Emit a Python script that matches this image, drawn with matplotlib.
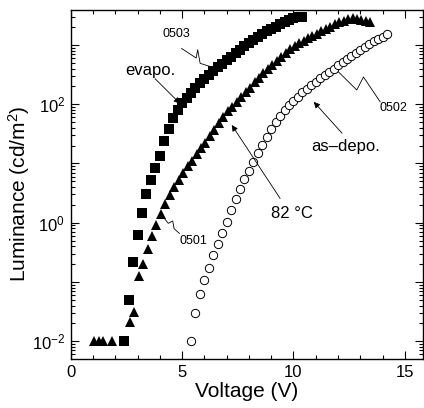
import numpy as np
import matplotlib
matplotlib.use('Agg')
import matplotlib.pyplot as plt
from matplotlib.ticker import FixedLocator, LogLocator, NullFormatter, MultipleLocator, FuncFormatter

plt.rcParams['font.family'] = ['Liberation Sans', 'DejaVu Sans']
plt.rcParams['mathtext.fontset'] = 'custom'
plt.rcParams['mathtext.rm'] = 'Liberation Sans'
plt.rcParams['mathtext.it'] = 'Liberation Sans:italic'

# evapo. (0503), filled squares -- luminance read as log10(cd/m^2)
evapo_V = [2.4, 2.6, 2.8, 3.0, 3.2, 3.4, 3.6, 3.8, 4.0, 4.2, 4.4, 4.6, 4.8, 5.0,
           5.2, 5.4, 5.6, 5.8, 6.0, 6.2, 6.4, 6.6, 6.8, 7.0, 7.2, 7.4, 7.6, 7.8,
           8.0, 8.2, 8.4, 8.6, 8.8, 9.0, 9.2, 9.4, 9.6, 9.8, 10.0, 10.2, 10.4]
evapo_logL = [-2.00, -1.30, -0.67, -0.20, 0.17, 0.48, 0.72, 0.93, 1.13, 1.38,
              1.59, 1.76, 1.90, 2.02, 2.11, 2.19, 2.27, 2.35, 2.42, 2.49,
              2.56, 2.62, 2.68, 2.74, 2.80, 2.86, 2.92, 2.98, 3.03, 3.08,
              3.13, 3.18, 3.23, 3.27, 3.31, 3.35, 3.39, 3.42, 3.45, 3.47, 3.48]

# 82 C (0501), filled triangles
t82_V = [1.05, 1.25, 1.45, 1.85,
         2.65, 2.85, 3.05, 3.25, 3.45, 3.65, 3.85, 4.05, 4.25, 4.45,
         4.65, 4.85, 5.05, 5.25, 5.45, 5.65, 5.85, 6.05, 6.25, 6.45,
         6.65, 6.85, 7.05, 7.25, 7.45, 7.65, 7.85, 8.05, 8.25, 8.45,
         8.65, 8.85, 9.05, 9.25, 9.45, 9.65, 9.85, 10.05, 10.25, 10.45,
         10.65, 10.85, 11.05, 11.25, 11.45, 11.65, 11.85, 12.05, 12.25, 12.45,
         12.65, 12.85, 13.05, 13.25, 13.45]
t82_logL = [-2.00, -2.00, -2.00, -2.00,
            -1.67, -1.51, -0.90, -0.69, -0.45, -0.22, -0.04, 0.15, 0.32, 0.46,
            0.60, 0.72, 0.84, 0.95, 1.05, 1.16, 1.26, 1.35, 1.46, 1.57,
            1.68, 1.79, 1.88, 1.96, 2.04, 2.12, 2.20, 2.28, 2.37, 2.45,
            2.52, 2.59, 2.66, 2.73, 2.80, 2.87, 2.93, 2.98, 3.03, 3.07,
            3.11, 3.15, 3.19, 3.23, 3.27, 3.31, 3.35, 3.38, 3.41, 3.44,
            3.45, 3.44, 3.42, 3.40, 3.38]

# as-depo. (0502), open circles
asdep_V = [5.4, 5.6, 5.8, 6.0, 6.2, 6.4, 6.6, 6.8, 7.0, 7.2, 7.4, 7.6, 7.8, 8.0,
           8.2, 8.4, 8.6, 8.8, 9.0, 9.2, 9.4, 9.6, 9.8, 10.0, 10.2, 10.4, 10.6,
           10.8, 11.0, 11.2, 11.4, 11.6, 11.8, 12.0, 12.2, 12.4, 12.6, 12.8,
           13.0, 13.2, 13.4, 13.6, 13.8, 14.0, 14.2]
asdep_logL = [-2.00, -1.52, -1.21, -0.96, -0.77, -0.55, -0.36, -0.17, 0.02, 0.22,
              0.40, 0.57, 0.73, 0.88, 1.03, 1.18, 1.32, 1.45, 1.58, 1.70,
              1.80, 1.90, 1.98, 2.06, 2.13, 2.20, 2.26, 2.32, 2.38, 2.44,
              2.49, 2.55, 2.60, 2.66, 2.72, 2.77, 2.82, 2.87, 2.92, 2.97,
              3.01, 3.06, 3.10, 3.14, 3.19]

fig = plt.figure(figsize=(4.24, 4.08), dpi=100)
ax = fig.add_axes([0.1667, 0.120, 0.8303, 0.8555])

ax.semilogy(asdep_V, 10.0 ** np.array(asdep_logL), 'o', ms=6, mfc='white',
            mec='black', mew=0.7, zorder=3)
ax.semilogy(t82_V, 10.0 ** np.array(t82_logL), '^', ms=7, color='black',
            mec='black', mew=0, zorder=4)
ax.semilogy(evapo_V, 10.0 ** np.array(evapo_logL), 's', ms=7, color='black',
            mec='black', mew=0, zorder=5)

ax.set_xlim(0, 15.8)
ax.set_ylim(10 ** -2.3, 10 ** 3.59)

ax.set_xticks([0, 5, 10, 15])
ax.xaxis.set_minor_locator(MultipleLocator(1))
ax.yaxis.set_major_locator(FixedLocator(10.0 ** np.arange(-2, 4)))
ax.yaxis.set_major_formatter(FuncFormatter(
    lambda v, p: r'$10^{%d}$' % round(np.log10(v)) if round(np.log10(v)) % 2 == 0 else ''))
ax.yaxis.set_minor_locator(LogLocator(base=10, subs=np.arange(2, 10), numticks=20))
ax.yaxis.set_minor_formatter(NullFormatter())

ax.tick_params(which='both', direction='in', top=True, right=True, width=0.8)
ax.tick_params(which='major', length=6, labelsize=12, pad=4)
ax.tick_params(which='minor', length=3)
for s in ax.spines.values():
    s.set_linewidth(1.0)

ax.set_xlabel('Voltage (V)', fontsize=15, labelpad=2)
ax.set_ylabel('Luminance (cd/m$^2$)', fontsize=15)
ax.yaxis.set_label_coords(-0.11, 0.475)

# annotations
arrow = dict(arrowstyle='-|>', color='black', lw=0.6, mutation_scale=9,
             shrinkA=0, shrinkB=0)
ax.text(3.56, 10 ** 2.57, 'evapo.', fontsize=12, ha='center', va='center')
ax.annotate('', xy=(4.91, 10 ** 2.01), xytext=(3.79, 10 ** 2.43), arrowprops=arrow)

ax.text(9.94, 10 ** 0.155, '82 °C', fontsize=12, ha='center', va='center')
ax.annotate('', xy=(7.23, 10 ** 1.65), xytext=(9.40, 10 ** 0.41), arrowprops=arrow)

ax.text(12.32, 10 ** 1.28, 'as–depo.', fontsize=12, ha='center', va='center')
ax.annotate('', xy=(10.91, 10 ** 2.04), xytext=(12.18, 10 ** 1.51), arrowprops=arrow)

# sample numbers with zigzag leaders
ax.text(4.73, 10 ** 3.19, '0503', fontsize=9, ha='center', va='center')
ax.plot([4.98, 5.63, 5.70, 5.81, 6.56],
        10.0 ** np.array([2.94, 2.78, 2.92, 2.69, 2.60]), color='black', lw=0.6)

ax.text(5.49, 10 ** -0.307, '0501', fontsize=9, ha='center', va='center')
ax.plot([4.09, 4.38, 4.58, 4.64, 4.88],
        10.0 ** np.array([0.127, -0.01, 0.03, -0.10, -0.18]), color='black', lw=0.6)

ax.text(14.50, 10 ** 1.94, '0502', fontsize=9, ha='center', va='center')
ax.plot([11.87, 12.84, 13.14, 13.89],
        10.0 ** np.array([2.60, 2.24, 2.46, 2.04]), color='black', lw=0.6)

fig.savefig('out.png', dpi=100)
